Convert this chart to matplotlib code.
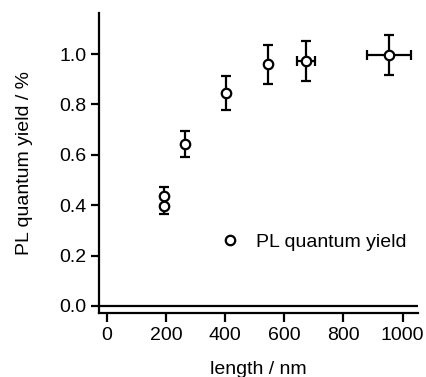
import numpy as np
import matplotlib
matplotlib.use("Agg")
import matplotlib.pyplot as plt

plt.rcParams['font.family'] = ['Liberation Sans', 'DejaVu Sans']
plt.rcParams['font.size'] = 14

# data
length_nm = np.array([194, 194, 264, 402, 546, 674, 953])
length_err = np.array([0, 0, 0, 0, 0, 30, 75])
plqy = np.array([0.437, 0.398, 0.643, 0.846, 0.959, 0.972, 0.997])
plqy_err = np.array([0.036, 0.033, 0.051, 0.068, 0.077, 0.078, 0.080])

fig = plt.figure(figsize=(4.27, 3.77), dpi=100)
ax = fig.add_axes([99 / 427, 64 / 377, 319 / 427, 300 / 377])

lw = 1.6
ax.errorbar(length_nm, plqy, yerr=plqy_err, fmt='none', ecolor='black',
            elinewidth=lw, capsize=3.6, capthick=lw, zorder=2)
has_xerr = length_err > 0
ax.errorbar(length_nm[has_xerr], plqy[has_xerr], xerr=length_err[has_xerr],
            fmt='none', ecolor='black', elinewidth=lw, capsize=3.6,
            capthick=lw, zorder=2)
ax.plot(length_nm, plqy, 'o', ms=6.8, mfc='white', mec='black', mew=1.6,
        zorder=3, label='PL quantum yield')

ax.axhline(0, color='black', lw=lw, zorder=1)

ax.set_xlim(-27, 1052)
ax.set_ylim(-0.0278, 1.163)
ax.set_xticks([0, 200, 400, 600, 800, 1000])
ax.set_yticks([0.0, 0.2, 0.4, 0.6, 0.8, 1.0])
ax.yaxis.set_major_formatter(matplotlib.ticker.FormatStrFormatter('%.1f'))

for s in ['top', 'right']:
    ax.spines[s].set_visible(False)
for s in ['left', 'bottom']:
    ax.spines[s].set_linewidth(lw)
ax.tick_params(axis='y', direction='out', length=5.5, width=lw, pad=3.5)
ax.tick_params(axis='x', direction='out', length=6.5, width=lw, pad=3.5)

ax.set_xlabel('length / nm', labelpad=12)
ax.set_ylabel('PL quantum yield / %', labelpad=19)

ax.legend(loc='center left', bbox_to_anchor=(0.375, 0.236), frameon=False,
          handlelength=1.2, handletextpad=0.7, borderpad=0, borderaxespad=0)

fig.savefig('out.png', dpi=100)
